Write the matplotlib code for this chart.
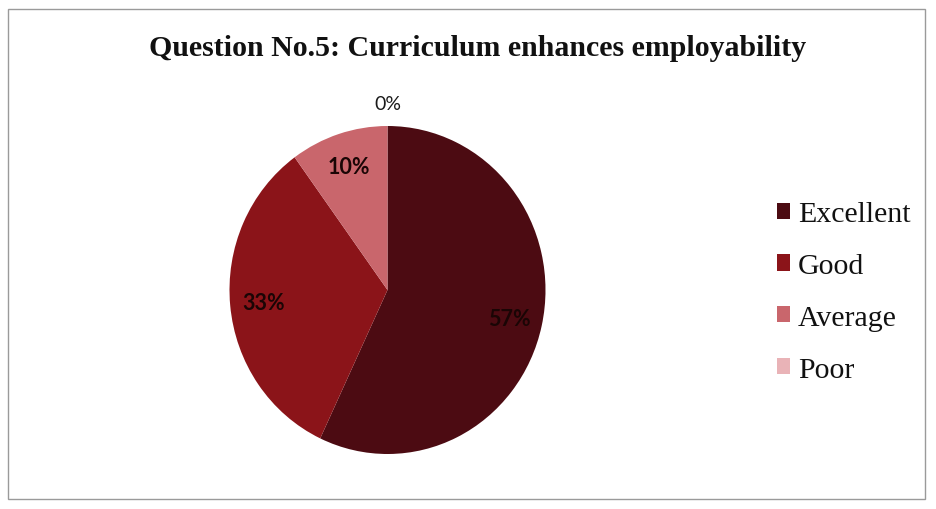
import matplotlib
matplotlib.use("Agg")
import matplotlib.pyplot as plt
from matplotlib.patches import Rectangle
import numpy as np

categories = ["Excellent", "Good", "Average", "Poor"]
values = [57, 33, 10, 0]
colors = ["#4c0b12", "#8b1419", "#c9666c", "#e9b3b7"]
title = "Question No.5: Curriculum enhances employability"

W, H = 937, 510
fig = plt.figure(figsize=(W / 100, H / 100), dpi=100)
fig.patch.set_facecolor("white")

# outer frame
fig.add_artist(Rectangle((8 / W, 1 - 500 / H), (925 - 8) / W, (500 - 10) / H,
                         transform=fig.transFigure, fill=False,
                         edgecolor="#9a9a9a", linewidth=1.0))

cx, cy, rx, ry = 387.5, 291, 158, 164
ax = fig.add_axes([(cx - rx) / W, 1 - (cy + ry) / H, 2 * rx / W, 2 * ry / H])
wedges, _ = ax.pie(values, colors=colors, startangle=90, counterclock=False,
                   radius=1.0, wedgeprops=dict(linewidth=0))
ax.set_aspect("auto")
ax.set_xlim(-1, 1)
ax.set_ylim(-1, 1)
ax.axis("off")

total = sum(values)
for w, v in zip(wedges, values):
    ang = np.deg2rad((w.theta1 + w.theta2) / 2)
    pct = f"{round(100 * v / total):.0f}%"
    if v == 0:
        ax.text(1.14 * np.cos(ang), 1.14 * np.sin(ang), pct, ha="center", va="center",
                fontsize=14, family="Lato", color="#1a1a1a", clip_on=False)
    else:
        r = 0.79
        ax.text(r * np.cos(ang), r * np.sin(ang), pct, ha="center", va="center",
                fontsize=15.5, family="Lato", fontweight="bold", color="#1a0505",
                clip_on=False)

fig.text(478 / W, 1 - 48 / H, title, ha="center", va="center",
         family="Liberation Serif", fontweight="bold", fontsize=21.5, color="#111111")

leg = fig.legend(wedges, categories, loc="center left",
                 bbox_to_anchor=(777 / W, 1 - 293 / H), frameon=False,
                 prop=dict(family="Liberation Serif", size=21.5),
                 handlelength=0.45, handleheight=0.45, handletextpad=0.25,
                 labelspacing=0.86, borderpad=0, borderaxespad=0)
for t in leg.get_texts():
    t.set_color("#111111")

fig.savefig("out.png", dpi=100)
